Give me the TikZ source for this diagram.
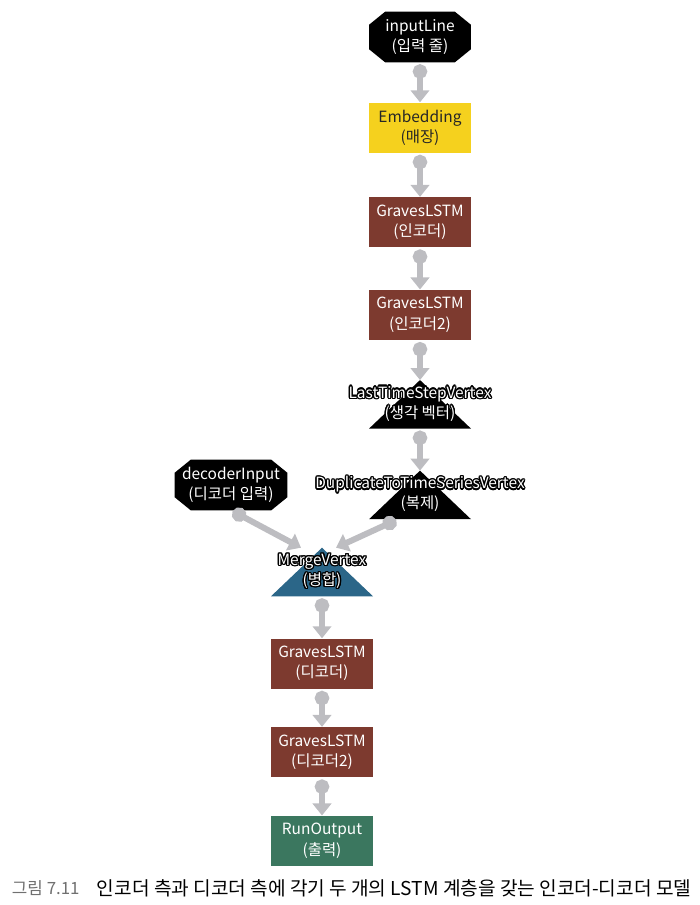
\documentclass[tikz,border=0pt]{standalone}
\usepackage{fontspec}
\setmainfont{Noto Sans CJK KR}
\usepackage[copies]{contour}
\contourlength{0.9pt}
\usetikzlibrary{arrows.meta, positioning, calc, backgrounds}

\definecolor{embyellow}{HTML}{F5D11E}
\definecolor{lstmbrown}{HTML}{7D3A2F}
\definecolor{mergeblue}{HTML}{2B6688}
\definecolor{outgreen}{HTML}{3B775F}
\definecolor{flowgray}{HTML}{BDBDC1}
\definecolor{capgray}{HTML}{707070}

\begin{document}
\begin{tikzpicture}[
    x=0.025cm, y=-0.025cm,
    lbl/.style={font=\fontsize{11}{14.3}\selectfont, align=center},
    octa/.style={lbl, rectangle, text=white, minimum width=2.53cm, minimum height=1.25cm, inner sep=0pt},
    layer/.style={lbl, rectangle, minimum width=2.55cm, minimum height=1.25cm, inner sep=0pt, text=white},
    vtext/.style={lbl, minimum height=1.2cm, inner sep=0pt, text=white},
    flow/.style={draw=flowgray, line width=0.15cm, {Circle[length=0.36cm]}-{Triangle[length=0.3cm,width=0.46cm]}, shorten <=0.05cm}
]
\useasboundingbox (0,0) rectangle (699,905);

% Nodes
\node[octa] (inLine) at (420,37) {inputLine\\(입력 줄)};
\node[layer, fill=embyellow, text=black!85, below=1cm of inLine] (emb) {Embedding\\(매장)};
\node[layer, fill=lstmbrown, below=1.1cm of emb] (enc1) {GravesLSTM\\(인코더)};
\node[layer, fill=lstmbrown, below=1.05cm of enc1] (enc2) {GravesLSTM\\(인코더2)};

\node[vtext, below=1cm of enc2] (lastStep) {\contour{black}{LastTimeStepVertex}\\\contour{black}{(생각 벡터)}};
\node[vtext, below=1.05cm of lastStep] (dup) {\contour{black}{DuplicateToTimeSeriesVertex}\\\contour{black}{(복제)}};

\node[octa, minimum width=2.8cm] (decIn) at (231,485) {decoderInput\\(디코더 입력)};
\node[vtext] (merge) at (322,572) {\contour{black}{MergeVertex}\\\contour{black}{(병합)}};

\node[layer, fill=lstmbrown, below=1.05cm of merge] (dec1) {GravesLSTM\\(디코더)};
\node[layer, fill=lstmbrown, below=0.95cm of dec1] (dec2) {GravesLSTM\\(디코더2)};
\node[layer, fill=outgreen, below=0.95cm of dec2] (out) {RunOutput\\(출력)};

% Octagons and vertex triangles
\begin{scope}[on background layer]
\foreach \n in {inLine, decIn}
  \fill[black] ($(\n.north west)+(16,0)$) -- ($(\n.north east)+(-16,0)$) -- ($(\n.north east)+(0,13)$) -- ($(\n.south east)+(0,-13)$)
    -- ($(\n.south east)+(-16,0)$) -- ($(\n.south west)+(16,0)$) -- ($(\n.south west)+(0,-13)$) -- ($(\n.north west)+(0,13)$) -- cycle;
\fill[black] ($(lastStep.south)+(-51,0)$) -- ($(lastStep.south)+(51,0)$) -- (lastStep.north) -- cycle;
\fill[black] ($(dup.south)+(-51,0)$) -- ($(dup.south)+(51,0)$) -- (dup.north) -- cycle;
\fill[mergeblue] ($(merge.south)+(-51,0)$) -- ($(merge.south)+(51,0)$) -- (merge.north) -- cycle;
\end{scope}

% Connections
\draw[flow] (inLine) -- (emb);
\draw[flow] (emb) -- (enc1);
\draw[flow] (enc1) -- (enc2);
\draw[flow] (enc2) -- (lastStep);
\draw[flow] (lastStep) -- (dup);
\draw[flow] (decIn.south) -- ($(merge.north)+(-21,0)$);
\draw[flow] ($(dup.south)+(-22,0)$) -- ($(merge.north)+(14,0)$);
\draw[flow] (merge) -- (dec1);
\draw[flow] (dec1) -- (dec2);
\draw[flow] (dec2) -- (out);

% Caption
\node[anchor=west, text=capgray, font=\fontsize{12}{15}\selectfont] (capNum) at (7,888) {그림 7.11};
\node[anchor=west, font=\fontsize{13.6}{15}\selectfont] (capText) at (92,888) {인코더 측과 디코더 측에 각기 두 개의 LSTM 계층을 갖는 인코더-디코더 모델};

\end{tikzpicture}
\end{document}
